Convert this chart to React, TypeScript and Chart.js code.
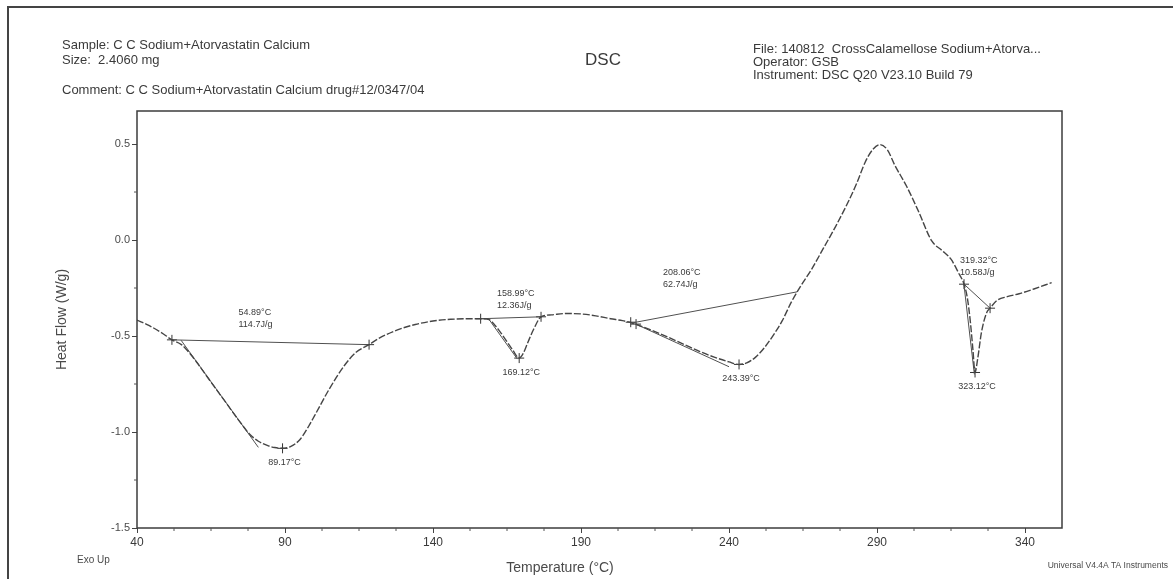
import React, { useEffect, useRef } from "react";
import { Chart, registerables } from "chart.js";

Chart.register(...registerables);

// DSC heat-flow trace: temperature (°C) and heat flow (W/g)
const temperatures = [
  40, 44, 48, 51.8, 55, 57, 60, 65, 70, 75, 78, 81, 84, 86.5, 89.17, 92, 95, 98, 100, 105, 110, 114,
  118.4, 122, 128, 134, 140, 146, 152, 156.1, 158.99, 161, 163, 165, 167, 169.12, 170.5, 172,
  174, 176.5, 180, 185, 190, 195, 200, 204, 207.2, 210, 215, 220, 225, 230, 235, 240, 243.39,
  246, 249, 252, 255, 258, 261, 264, 268, 272, 276, 280, 283, 286, 288.5, 291, 293.5, 296,
  300, 304, 308.5, 312, 315, 317.5, 319.4, 320.5, 321.5, 322.4, 323.12, 324, 325.3, 327,
  328.2, 330.5, 334, 338, 343, 349,
];
const heatFlow = [
  -0.417, -0.445, -0.48, -0.52, -0.545, -0.575, -0.633, -0.74, -0.846, -0.952, -1.01, -1.048,
  -1.07, -1.081, -1.085, -1.075, -1.04, -0.97, -0.915, -0.775, -0.655, -0.585, -0.545, -0.51,
  -0.468, -0.44, -0.422, -0.413, -0.41, -0.41, -0.415, -0.445, -0.485, -0.53, -0.575, -0.615,
  -0.59, -0.535, -0.465, -0.4, -0.39, -0.383, -0.385, -0.395, -0.41, -0.42, -0.432, -0.447,
  -0.477, -0.51, -0.545, -0.58, -0.61, -0.635, -0.648, -0.64, -0.61, -0.56, -0.495, -0.42,
  -0.325, -0.245, -0.15, -0.04, 0.07, 0.19, 0.29, 0.405, 0.47, 0.497, 0.47, 0.39, 0.28, 0.15,
  -0.005, -0.055, -0.1, -0.17, -0.23, -0.3, -0.42, -0.57, -0.69, -0.62, -0.48, -0.38, -0.355,
  -0.315, -0.295, -0.28, -0.255, -0.222,
];

const xTicks = [40, 90, 140, 190, 240, 290, 340];
const yTicks = [-1.5, -1.0, -0.5, 0.0, 0.5];

// Integration baselines: [start, end] temperature and heat flow per transition
const baselineT = [[51.8, 118.4], [156.1, 176.5], [207.2, 263], [319.4, 328.2]];
const baselineV = [[-0.52, -0.545], [-0.41, -0.4], [-0.432, -0.27], [-0.23, -0.355]];

// Onset tangents: start at the onset temperature
const tangentT = [[54.89, 81], [158.99, 168.5], [208.06, 240], [319.32, 322.9]];
const tangentV = [[-0.522, -1.08], [-0.415, -0.62], [-0.435, -0.66], [-0.225, -0.7]];

// Cross markers: integration limits and peak temperatures
const markerT = [51.8, 118.4, 89.17, 156.1, 176.5, 169.12, 206.8, 208.6, 243.39, 319.4, 328.2, 323.12];
const markerV = [-0.52, -0.545, -1.085, -0.41, -0.4, -0.615, -0.428, -0.438, -0.648, -0.23, -0.355, -0.69];

// Transition results
const onsetLabels = ["54.89°C", "158.99°C", "208.06°C", "319.32°C"];
const enthalpyLabels = ["114.7J/g", "12.36J/g", "62.74J/g", "10.58J/g"];
const peakTemps = [89.17, 169.12, 243.39, 323.12];
const peakFlows = [-1.085, -0.615, -0.648, -0.69];

// Where the onset / enthalpy text blocks sit (data units, left edge)
const onsetLabelAnchors = [
  { x: 74.3, y: -0.38 },
  { x: 161.6, y: -0.281 },
  { x: 217.7, y: -0.167 },
  { x: 318.0, y: -0.109 },
];

const FONT = '"Liberation Sans", Arial, Helvetica, sans-serif';
const INK = "#3a3a3a";

const decorPlugin = {
  id: "dscDecor",
  afterDraw(chart: any) {
    const { ctx, chartArea, scales } = chart;
    const xs = scales.x;
    const ys = scales.y;
    ctx.save();

    // outer page frame
    ctx.strokeStyle = "#444";
    ctx.lineWidth = 2;
    ctx.beginPath();
    ctx.moveTo(8, 579);
    ctx.lineTo(8, 7);
    ctx.lineTo(1173, 7);
    ctx.stroke();

    // plot box
    ctx.strokeStyle = "#3c3c3c";
    ctx.lineWidth = 1.5;
    ctx.strokeRect(chartArea.left, chartArea.top, chartArea.right - chartArea.left, chartArea.bottom - chartArea.top);

    // minor ticks
    ctx.lineWidth = 1;
    ctx.strokeStyle = "#555";
    ctx.beginPath();
    for (let t = 40; t <= 352; t += 12.5) {
      if ((t - 40) % 50 === 0) continue;
      const px = xs.getPixelForValue(t);
      ctx.moveTo(px, chartArea.bottom);
      ctx.lineTo(px, chartArea.bottom + 3);
    }
    for (let v = -1.5; v <= 0.66; v += 0.25) {
      if (Math.abs((v * 2) - Math.round(v * 2)) < 1e-6) continue;
      const py = ys.getPixelForValue(v);
      ctx.moveTo(chartArea.left, py);
      ctx.lineTo(chartArea.left - 3, py);
    }
    ctx.stroke();

    // header
    ctx.fillStyle = INK;
    ctx.textBaseline = "middle";
    ctx.textAlign = "left";
    ctx.font = `13px ${FONT}`;
    ctx.fillText("Sample: C C Sodium+Atorvastatin Calcium", 62, 45);
    ctx.fillText("Size:  2.4060 mg", 62, 60);
    ctx.fillText("Comment: C C Sodium+Atorvastatin Calcium drug#12/0347/04", 62, 90);
    ctx.fillText("File: 140812  CrossCalamellose Sodium+Atorva...", 753, 49);
    ctx.fillText("Operator: GSB", 753, 62);
    ctx.fillText("Instrument: DSC Q20 V23.10 Build 79", 753, 75);
    ctx.font = `17px ${FONT}`;
    ctx.textAlign = "center";
    ctx.fillText("DSC", 603, 60);

    // axis titles and footer
    ctx.fillStyle = "#4a4a4a";
    ctx.font = `14px ${FONT}`;
    ctx.fillText("Temperature (°C)", 560, 568);
    ctx.save();
    ctx.translate(62, (chartArea.top + chartArea.bottom) / 2);
    ctx.rotate(-Math.PI / 2);
    ctx.fillText("Heat Flow (W/g)", 0, 0);
    ctx.restore();
    ctx.font = `10px ${FONT}`;
    ctx.textAlign = "left";
    ctx.fillText("Exo Up", 77, 560);
    ctx.font = `8.5px ${FONT}`;
    ctx.textAlign = "right";
    ctx.fillText("Universal V4.4A TA Instruments", 1168, 566);

    // transition annotations
    ctx.fillStyle = INK;
    ctx.font = `9px ${FONT}`;
    ctx.textAlign = "left";
    onsetLabels.forEach((txt, i) => {
      const a = onsetLabelAnchors[i];
      const px = xs.getPixelForValue(a.x);
      const py = ys.getPixelForValue(a.y);
      ctx.fillText(txt, px, py);
      ctx.fillText(enthalpyLabels[i], px, py + 12);
    });
    ctx.textAlign = "center";
    peakTemps.forEach((t, i) => {
      const px = xs.getPixelForValue(t);
      const py = ys.getPixelForValue(peakFlows[i]);
      ctx.fillText(`${t.toFixed(2)}°C`, px + 2, py + 14);
    });

    ctx.restore();
  },
};

export default function App() {
  const canvasRef = useRef<HTMLCanvasElement | null>(null);

  useEffect(() => {
    const canvas = canvasRef.current;
    if (!canvas) return;

    const lineSet = (ts: number[], vs: number[]) => ({
      type: "line" as const,
      data: ts.map((t, i) => ({ x: t, y: vs[i] })),
      borderColor: "#505050",
      borderWidth: 1,
      pointRadius: 0,
      showLine: true,
      fill: false,
    });

    const datasets: any[] = [
      {
        type: "line",
        data: temperatures.map((t, i) => ({ x: t, y: heatFlow[i] })),
        borderColor: "#454545",
        borderWidth: 1.4,
        borderDash: [7, 2],
        pointRadius: 0,
        cubicInterpolationMode: "monotone",
        fill: false,
      },
      ...baselineT.map((ts, i) => lineSet(ts, baselineV[i])),
      ...tangentT.map((ts, i) => lineSet(ts, tangentV[i])),
      {
        type: "scatter",
        data: markerT.map((t, i) => ({ x: t, y: markerV[i] })),
        pointStyle: "cross",
        pointRadius: 5,
        borderColor: "#333",
        borderWidth: 1,
        showLine: false,
      },
    ];

    const chart = new Chart(canvas, {
      type: "scatter",
      data: { datasets },
      options: {
        animation: false,
        responsive: false,
        devicePixelRatio: 1,
        layout: { padding: { top: 111, right: 111, left: 0, bottom: 0 } },
        plugins: { legend: { display: false }, tooltip: { enabled: false } },
        scales: {
          x: {
            type: "linear",
            min: 40,
            max: 352.5,
            afterBuildTicks: (scale: any) => {
              scale.ticks = xTicks.map((v) => ({ value: v }));
            },
            afterFit: (scale: any) => {
              scale.height = 51;
            },
            border: { display: false },
            grid: { drawOnChartArea: false, drawTicks: true, tickLength: 5, color: "#444" },
            ticks: {
              padding: 2,
              color: "#3a3a3a",
              font: { family: FONT, size: 12 },
              maxRotation: 0,
              callback: (v: any) => String(v),
            },
          },
          y: {
            type: "linear",
            min: -1.5,
            max: 0.672,
            afterBuildTicks: (scale: any) => {
              scale.ticks = yTicks.map((v) => ({ value: v }));
            },
            afterFit: (scale: any) => {
              scale.width = 137;
            },
            border: { display: false },
            grid: { drawOnChartArea: false, drawTicks: true, tickLength: 5, color: "#444" },
            ticks: {
              padding: 2,
              color: "#4a4a4a",
              font: { family: FONT, size: 11 },
              callback: (v: any) => Number(v).toFixed(1),
            },
          },
        },
      },
      plugins: [decorPlugin],
    });

    return () => chart.destroy();
  }, []);

  return (
    <div style={{ position: "fixed", left: 0, top: 0, width: 1173, height: 579, background: "#fff" }}>
      <canvas ref={canvasRef} width={1173} height={579} style={{ display: "block" }} />
    </div>
  );
}
